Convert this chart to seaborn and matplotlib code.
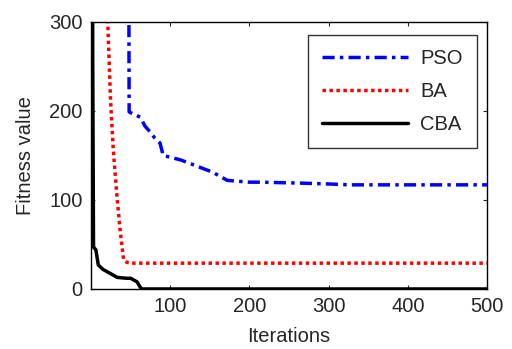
import matplotlib
matplotlib.use("Agg")
import matplotlib.pyplot as plt
import seaborn as sns
import pandas as pd

pso_x = [1, 47, 48, 50, 55, 62, 68, 75, 80, 87, 91, 100, 113, 125, 154, 172, 200, 213, 263, 300, 326, 400, 500]
pso_y = [3000, 600, 199, 198, 196, 193, 183, 176, 170, 164, 150, 148, 145, 141, 131, 122, 120, 120, 119, 118, 117, 117, 117]
ba_x = [1, 20, 21, 24.5, 28, 33, 37, 41, 45, 50, 500]
ba_y = [3000, 400, 300, 212, 156, 100, 63, 33, 30, 29, 29]
cba_x = [1, 2, 3, 4, 6, 9, 15, 21, 33, 45, 50, 58, 62, 64, 500]
cba_y = [3000, 261, 47, 46, 44, 27, 22, 19, 13, 12, 12, 8, 2, 0, 0]

sns.set_style("white")
plt.rcParams['font.family'] = ['Liberation Sans', 'DejaVu Sans']

df = pd.concat([
    pd.DataFrame({"it": pso_x, "val": pso_y, "alg": "PSO"}),
    pd.DataFrame({"it": ba_x, "val": ba_y, "alg": "BA"}),
    pd.DataFrame({"it": cba_x, "val": cba_y, "alg": "CBA"}),
])

fs = 14.5
fig = plt.figure(figsize=(5.12, 3.49), dpi=100)
ax = fig.add_axes([0.178, 0.172, 0.773, 0.765])
sns.lineplot(data=df, x="it", y="val", hue="alg", style="alg",
             palette={"PSO": "#0000ff", "BA": "#ff0000", "CBA": "#000000"},
             dashes={"PSO": (3.5, 1.5, 1, 1.5), "BA": (1, 1), "CBA": ""},
             linewidth=2.5, ax=ax, sort=False, estimator=None)
ax.set_xlim(0, 500)
ax.set_ylim(0, 300)
ax.set_xticks([100, 200, 300, 400, 500])
ax.set_yticks([0, 100, 200, 300])
ax.tick_params(direction="in", top=True, right=True, length=3, width=0.8,
               labelsize=fs, pad=6, bottom=True, left=True)
for s in ax.spines.values():
    s.set_color("black")
    s.set_linewidth(1.0)
ax.set_xlabel("Iterations", fontsize=fs, labelpad=8)
ax.set_ylabel("Fitness value", fontsize=fs, labelpad=10)
leg = ax.legend(loc="upper right", fontsize=fs, frameon=True, fancybox=False,
                edgecolor="black", handlelength=4.3, borderpad=0.7, labelspacing=0.7,
                handletextpad=0.6, borderaxespad=0, bbox_to_anchor=(0.975, 0.951))
leg.get_frame().set_linewidth(1.0)
for line in leg.get_lines():
    line.set_linewidth(2.5)
fig.savefig("out.png", dpi=100)
